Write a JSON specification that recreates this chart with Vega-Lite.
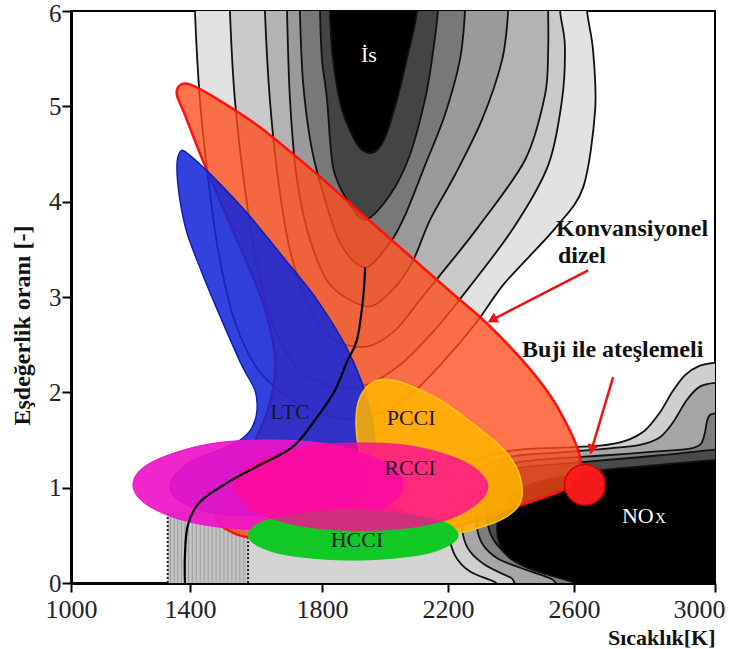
{
"$schema": "https://vega.github.io/schema/vega-lite/v6.json",
"width": 644, "height": 572,
"autosize": {"type": "none"},
"padding": {"left": 71, "top": 11, "right": 15, "bottom": 66},
"background": "white",
"config": {"view": {"stroke": "black", "strokeWidth": 2}, "font": "Liberation Serif"},
"datasets": {
"contours": [
{"lev":"s1","i":0,"t":1415,"p":6.4},{"lev":"s1","i":1,"t":1415,"p":6.0},{"lev":"s1","i":2,"t":1430,"p":5.07},{"lev":"s1","i":3,"t":1452,"p":4.33},{"lev":"s1","i":4,"t":1485,"p":3.49},{"lev":"s1","i":5,"t":1536,"p":2.74},{"lev":"s1","i":6,"t":1612,"p":2.21},{"lev":"s1","i":7,"t":1733,"p":1.87},{"lev":"s1","i":8,"t":1857,"p":1.73},{"lev":"s1","i":9,"t":1968,"p":1.76},{"lev":"s1","i":10,"t":2079,"p":1.97},{"lev":"s1","i":11,"t":2190,"p":2.34},{"lev":"s1","i":12,"t":2292,"p":2.74},{"lev":"s1","i":13,"t":2381,"p":3.15},{"lev":"s1","i":14,"t":2540,"p":3.72},{"lev":"s1","i":15,"t":2626,"p":4.15},{"lev":"s1","i":16,"t":2660,"p":4.96},{"lev":"s1","i":17,"t":2654,"p":5.59},{"lev":"s1","i":18,"t":2637,"p":6.0},{"lev":"s1","i":19,"t":2634,"p":6.4},
{"lev":"s2","i":0,"t":1521,"p":6.4},{"lev":"s2","i":1,"t":1521,"p":6.0},{"lev":"s2","i":2,"t":1536,"p":5.07},{"lev":"s2","i":3,"t":1567,"p":4.12},{"lev":"s2","i":4,"t":1606,"p":3.28},{"lev":"s2","i":5,"t":1658,"p":2.65},{"lev":"s2","i":6,"t":1733,"p":2.23},{"lev":"s2","i":7,"t":1841,"p":2.05},{"lev":"s2","i":8,"t":1943,"p":2.08},{"lev":"s2","i":9,"t":2048,"p":2.29},{"lev":"s2","i":10,"t":2143,"p":2.6},{"lev":"s2","i":11,"t":2229,"p":2.94},{"lev":"s2","i":12,"t":2403,"p":3.7},{"lev":"s2","i":13,"t":2518,"p":4.38},{"lev":"s2","i":14,"t":2562,"p":5.07},{"lev":"s2","i":15,"t":2571,"p":5.64},{"lev":"s2","i":16,"t":2556,"p":6.0},{"lev":"s2","i":17,"t":2556,"p":6.4},
{"lev":"s3","i":0,"t":1627,"p":6.4},{"lev":"s3","i":1,"t":1627,"p":6.0},{"lev":"s3","i":2,"t":1642,"p":5.07},{"lev":"s3","i":3,"t":1667,"p":4.23},{"lev":"s3","i":4,"t":1703,"p":3.49},{"lev":"s3","i":5,"t":1764,"p":2.86},{"lev":"s3","i":6,"t":1841,"p":2.55},{"lev":"s3","i":7,"t":1943,"p":2.48},{"lev":"s3","i":8,"t":2032,"p":2.65},{"lev":"s3","i":9,"t":2111,"p":2.97},{"lev":"s3","i":10,"t":2175,"p":3.23},{"lev":"s3","i":11,"t":2295,"p":3.73},{"lev":"s3","i":12,"t":2445,"p":4.44},{"lev":"s3","i":13,"t":2508,"p":5.12},{"lev":"s3","i":14,"t":2518,"p":5.59},{"lev":"s3","i":15,"t":2518,"p":6.0},{"lev":"s3","i":16,"t":2518,"p":6.4},
{"lev":"s4","i":0,"t":1694,"p":6.4},{"lev":"s4","i":1,"t":1694,"p":6.0},{"lev":"s4","i":2,"t":1703,"p":5.07},{"lev":"s4","i":3,"t":1724,"p":4.23},{"lev":"s4","i":4,"t":1764,"p":3.6},{"lev":"s4","i":5,"t":1825,"p":3.13},{"lev":"s4","i":6,"t":1943,"p":2.9},{"lev":"s4","i":7,"t":2022,"p":3.07},{"lev":"s4","i":8,"t":2086,"p":3.36},{"lev":"s4","i":9,"t":2143,"p":3.81},{"lev":"s4","i":10,"t":2222,"p":4.28},{"lev":"s4","i":11,"t":2308,"p":4.86},{"lev":"s4","i":12,"t":2372,"p":5.49},{"lev":"s4","i":13,"t":2391,"p":6.0},{"lev":"s4","i":14,"t":2391,"p":6.4},
{"lev":"s5","i":0,"t":1733,"p":6.4},{"lev":"s5","i":1,"t":1733,"p":6.0},{"lev":"s5","i":2,"t":1742,"p":5.28},{"lev":"s5","i":3,"t":1764,"p":4.65},{"lev":"s5","i":4,"t":1794,"p":4.2},{"lev":"s5","i":5,"t":1857,"p":3.57},{"lev":"s5","i":6,"t":1937,"p":3.31},{"lev":"s5","i":7,"t":2016,"p":3.57},{"lev":"s5","i":8,"t":2064,"p":3.86},{"lev":"s5","i":9,"t":2127,"p":4.38},{"lev":"s5","i":10,"t":2190,"p":4.91},{"lev":"s5","i":11,"t":2238,"p":5.49},{"lev":"s5","i":12,"t":2254,"p":6.0},{"lev":"s5","i":13,"t":2254,"p":6.4},
{"lev":"s6","i":0,"t":1794,"p":6.4},{"lev":"s6","i":1,"t":1794,"p":6.0},{"lev":"s6","i":2,"t":1800,"p":5.49},{"lev":"s6","i":3,"t":1816,"p":5.07},{"lev":"s6","i":4,"t":1835,"p":4.36},{"lev":"s6","i":5,"t":1879,"p":4.02},{"lev":"s6","i":6,"t":1937,"p":3.81},{"lev":"s6","i":7,"t":2016,"p":4.07},{"lev":"s6","i":8,"t":2079,"p":4.49},{"lev":"s6","i":9,"t":2127,"p":5.07},{"lev":"s6","i":10,"t":2149,"p":5.49},{"lev":"s6","i":11,"t":2168,"p":6.0},{"lev":"s6","i":12,"t":2168,"p":6.4},
{"lev":"s7","i":0,"t":1825,"p":6.4},{"lev":"s7","i":1,"t":1825,"p":6.0},{"lev":"s7","i":2,"t":1835,"p":5.49},{"lev":"s7","i":3,"t":1864,"p":4.96},{"lev":"s7","i":4,"t":1914,"p":4.59},{"lev":"s7","i":5,"t":1959,"p":4.51},{"lev":"s7","i":6,"t":1997,"p":4.65},{"lev":"s7","i":7,"t":2038,"p":5.07},{"lev":"s7","i":8,"t":2076,"p":5.59},{"lev":"s7","i":9,"t":2102,"p":6.0},{"lev":"s7","i":10,"t":2102,"p":6.4},
{"lev":"n1","i":0,"t":3071,"p":2.32},{"lev":"n1","i":1,"t":3000,"p":2.31},{"lev":"n1","i":2,"t":2957,"p":2.28},{"lev":"n1","i":3,"t":2915,"p":2.18},{"lev":"n1","i":4,"t":2878,"p":2.0},{"lev":"n1","i":5,"t":2844,"p":1.79},{"lev":"n1","i":6,"t":2801,"p":1.6},{"lev":"n1","i":7,"t":2745,"p":1.49},{"lev":"n1","i":8,"t":2674,"p":1.44},{"lev":"n1","i":9,"t":2556,"p":1.42},{"lev":"n1","i":10,"t":2429,"p":1.4},{"lev":"n1","i":11,"t":2333,"p":1.34},{"lev":"n1","i":12,"t":2264,"p":1.24},{"lev":"n1","i":13,"t":2222,"p":1.06},{"lev":"n1","i":14,"t":2200,"p":0.82},{"lev":"n1","i":15,"t":2200,"p":0.56},{"lev":"n1","i":16,"t":2222,"p":0.29},{"lev":"n1","i":17,"t":2270,"p":0.12},{"lev":"n1","i":18,"t":2349,"p":0.01},{"lev":"n1","i":19,"t":2429,"p":-0.13},{"lev":"n1","i":20,"t":3071,"p":-0.18},
{"lev":"n2","i":0,"t":3071,"p":2.1},{"lev":"n2","i":1,"t":3000,"p":2.1},{"lev":"n2","i":2,"t":2957,"p":2.06},{"lev":"n2","i":3,"t":2920,"p":1.92},{"lev":"n2","i":4,"t":2880,"p":1.68},{"lev":"n2","i":5,"t":2844,"p":1.53},{"lev":"n2","i":6,"t":2787,"p":1.45},{"lev":"n2","i":7,"t":2693,"p":1.41},{"lev":"n2","i":8,"t":2556,"p":1.37},{"lev":"n2","i":9,"t":2429,"p":1.34},{"lev":"n2","i":10,"t":2349,"p":1.27},{"lev":"n2","i":11,"t":2295,"p":1.16},{"lev":"n2","i":12,"t":2260,"p":0.98},{"lev":"n2","i":13,"t":2244,"p":0.74},{"lev":"n2","i":14,"t":2248,"p":0.5},{"lev":"n2","i":15,"t":2270,"p":0.33},{"lev":"n2","i":16,"t":2318,"p":0.19},{"lev":"n2","i":17,"t":2397,"p":0.06},{"lev":"n2","i":18,"t":2492,"p":-0.07},{"lev":"n2","i":19,"t":3071,"p":-0.18},
{"lev":"n3","i":0,"t":3071,"p":1.78},{"lev":"n3","i":1,"t":3000,"p":1.78},{"lev":"n3","i":2,"t":2980,"p":1.73},{"lev":"n3","i":3,"t":2971,"p":1.57},{"lev":"n3","i":4,"t":2960,"p":1.46},{"lev":"n3","i":5,"t":2929,"p":1.41},{"lev":"n3","i":6,"t":2835,"p":1.38},{"lev":"n3","i":7,"t":2693,"p":1.34},{"lev":"n3","i":8,"t":2556,"p":1.31},{"lev":"n3","i":9,"t":2429,"p":1.27},{"lev":"n3","i":10,"t":2359,"p":1.19},{"lev":"n3","i":11,"t":2318,"p":1.03},{"lev":"n3","i":12,"t":2292,"p":0.82},{"lev":"n3","i":13,"t":2292,"p":0.58},{"lev":"n3","i":14,"t":2311,"p":0.4},{"lev":"n3","i":15,"t":2356,"p":0.26},{"lev":"n3","i":16,"t":2429,"p":0.16},{"lev":"n3","i":17,"t":2524,"p":0.05},{"lev":"n3","i":18,"t":2617,"p":-0.09},{"lev":"n3","i":19,"t":3071,"p":-0.18},
{"lev":"n4","i":0,"t":3071,"p":1.41},{"lev":"n4","i":1,"t":3000,"p":1.4},{"lev":"n4","i":2,"t":2844,"p":1.34},{"lev":"n4","i":3,"t":2693,"p":1.29},{"lev":"n4","i":4,"t":2556,"p":1.25},{"lev":"n4","i":5,"t":2429,"p":1.21},{"lev":"n4","i":6,"t":2381,"p":1.13},{"lev":"n4","i":7,"t":2343,"p":0.98},{"lev":"n4","i":8,"t":2324,"p":0.77},{"lev":"n4","i":9,"t":2330,"p":0.56},{"lev":"n4","i":10,"t":2356,"p":0.4},{"lev":"n4","i":11,"t":2397,"p":0.28},{"lev":"n4","i":12,"t":2460,"p":0.19},{"lev":"n4","i":13,"t":2556,"p":0.08},{"lev":"n4","i":14,"t":2674,"p":-0.07},{"lev":"n4","i":15,"t":3071,"p":-0.18},
{"lev":"n5","i":0,"t":3071,"p":1.3},{"lev":"n5","i":1,"t":3000,"p":1.29},{"lev":"n5","i":2,"t":2816,"p":1.23},{"lev":"n5","i":3,"t":2693,"p":1.19},{"lev":"n5","i":4,"t":2587,"p":1.13},{"lev":"n5","i":5,"t":2492,"p":1.07},{"lev":"n5","i":6,"t":2422,"p":0.97},{"lev":"n5","i":7,"t":2381,"p":0.82},{"lev":"n5","i":8,"t":2356,"p":0.61},{"lev":"n5","i":9,"t":2365,"p":0.4},{"lev":"n5","i":10,"t":2397,"p":0.26},{"lev":"n5","i":11,"t":2467,"p":0.14},{"lev":"n5","i":12,"t":2597,"p":0.01},{"lev":"n5","i":13,"t":2674,"p":-0.09},{"lev":"n5","i":14,"t":3071,"p":-0.18}
],
"lowt": [
{"i":0,"t":1325,"p":-0.1},{"i":1,"t":1325,"p":0.75},{"i":2,"t":1575,"p":0.82},{"i":3,"t":1850,"p":0.82},{"i":4,"t":2200,"p":0.75},{"i":5,"t":2330,"p":0.4},{"i":6,"t":2450,"p":-0.1}
],
"hatchbox": [{"t":1325,"t2":1576,"p":0,"p2":0.75}],
"hatch": [
{"t":1335,"p":0,"p2":0.75},{"t":1347,"p":0,"p2":0.75},{"t":1359,"p":0,"p2":0.75},{"t":1371,"p":0,"p2":0.75},{"t":1383,"p":0,"p2":0.75},{"t":1395,"p":0,"p2":0.75},{"t":1407,"p":0,"p2":0.75},{"t":1419,"p":0,"p2":0.75},{"t":1431,"p":0,"p2":0.75},{"t":1443,"p":0,"p2":0.75},{"t":1455,"p":0,"p2":0.75},{"t":1467,"p":0,"p2":0.75},{"t":1479,"p":0,"p2":0.75},{"t":1491,"p":0,"p2":0.75},{"t":1503,"p":0,"p2":0.75},{"t":1515,"p":0,"p2":0.75},{"t":1527,"p":0,"p2":0.75},{"t":1539,"p":0,"p2":0.75},{"t":1551,"p":0,"p2":0.75},{"t":1563,"p":0,"p2":0.75}
],
"dots": [{"t":1325,"p":0,"p2":0.74},{"t":1576,"p":0,"p2":0.48}],
"regions": [
{"r":"orange","i":0,"t":1366,"p":5.22},{"r":"orange","i":1,"t":1400,"p":5.23},{"r":"orange","i":2,"t":1476,"p":5.09},{"r":"orange","i":3,"t":1612,"p":4.78},{"r":"orange","i":4,"t":1794,"p":4.26},{"r":"orange","i":5,"t":1937,"p":3.84},{"r":"orange","i":6,"t":2079,"p":3.43},{"r":"orange","i":7,"t":2206,"p":3.06},{"r":"orange","i":8,"t":2321,"p":2.73},{"r":"orange","i":9,"t":2435,"p":2.34},{"r":"orange","i":10,"t":2524,"p":1.97},{"r":"orange","i":11,"t":2578,"p":1.66},{"r":"orange","i":12,"t":2611,"p":1.4},{"r":"orange","i":13,"t":2620,"p":1.21},{"r":"orange","i":14,"t":2603,"p":1.06},{"r":"orange","i":15,"t":2549,"p":0.95},{"r":"orange","i":16,"t":2460,"p":0.85},{"r":"orange","i":17,"t":2333,"p":0.71},{"r":"orange","i":18,"t":2216,"p":0.58},{"r":"orange","i":19,"t":2048,"p":0.5},{"r":"orange","i":20,"t":1733,"p":0.47},{"r":"orange","i":21,"t":1576,"p":0.48},{"r":"orange","i":22,"t":1512,"p":0.56},{"r":"orange","i":23,"t":1482,"p":0.66},{"r":"orange","i":24,"t":1491,"p":0.82},{"r":"orange","i":25,"t":1567,"p":1.29},{"r":"orange","i":26,"t":1636,"p":1.81},{"r":"orange","i":27,"t":1658,"p":2.34},{"r":"orange","i":28,"t":1618,"p":2.97},{"r":"orange","i":29,"t":1536,"p":3.65},{"r":"orange","i":30,"t":1445,"p":4.38},{"r":"orange","i":31,"t":1383,"p":4.91},{"r":"orange","i":32,"t":1356,"p":5.12},
{"r":"blue","i":0,"t":1366,"p":4.52},{"r":"blue","i":1,"t":1390,"p":4.51},{"r":"blue","i":2,"t":1470,"p":4.26},{"r":"blue","i":3,"t":1573,"p":3.88},{"r":"blue","i":4,"t":1682,"p":3.42},{"r":"blue","i":5,"t":1785,"p":2.97},{"r":"blue","i":6,"t":1873,"p":2.5},{"r":"blue","i":7,"t":1927,"p":2.1},{"r":"blue","i":8,"t":1959,"p":1.71},{"r":"blue","i":9,"t":1968,"p":1.45},{"r":"blue","i":10,"t":1952,"p":1.08},{"r":"blue","i":11,"t":1857,"p":0.82},{"r":"blue","i":12,"t":1673,"p":0.71},{"r":"blue","i":13,"t":1461,"p":0.74},{"r":"blue","i":14,"t":1350,"p":0.9},{"r":"blue","i":15,"t":1339,"p":1.08},{"r":"blue","i":16,"t":1400,"p":1.27},{"r":"blue","i":17,"t":1491,"p":1.4},{"r":"blue","i":18,"t":1552,"p":1.5},{"r":"blue","i":19,"t":1588,"p":1.63},{"r":"blue","i":20,"t":1603,"p":1.81},{"r":"blue","i":21,"t":1597,"p":2.02},{"r":"blue","i":22,"t":1552,"p":2.32},{"r":"blue","i":23,"t":1470,"p":2.97},{"r":"blue","i":24,"t":1430,"p":3.31},{"r":"blue","i":25,"t":1390,"p":3.67},{"r":"blue","i":26,"t":1366,"p":4.02},{"r":"blue","i":27,"t":1356,"p":4.36},
{"r":"yellow","i":0,"t":1968,"p":2.12},{"r":"yellow","i":1,"t":2048,"p":2.11},{"r":"yellow","i":2,"t":2175,"p":1.92},{"r":"yellow","i":3,"t":2283,"p":1.66},{"r":"yellow","i":4,"t":2368,"p":1.43},{"r":"yellow","i":5,"t":2416,"p":1.22},{"r":"yellow","i":6,"t":2435,"p":1.0},{"r":"yellow","i":7,"t":2426,"p":0.82},{"r":"yellow","i":8,"t":2378,"p":0.68},{"r":"yellow","i":9,"t":2299,"p":0.58},{"r":"yellow","i":10,"t":2222,"p":0.53},{"r":"yellow","i":11,"t":2111,"p":0.66},{"r":"yellow","i":12,"t":1984,"p":0.98},{"r":"yellow","i":13,"t":1927,"p":1.29},{"r":"yellow","i":14,"t":1908,"p":1.66},{"r":"yellow","i":15,"t":1921,"p":1.95},
{"r":"magenta","i":0,"t":2057,"p":1.03},{"r":"magenta","i":1,"t":2025,"p":0.85},{"r":"magenta","i":2,"t":1930,"p":0.69},{"r":"magenta","i":3,"t":1794,"p":0.59},{"r":"magenta","i":4,"t":1636,"p":0.56},{"r":"magenta","i":5,"t":1479,"p":0.59},{"r":"magenta","i":6,"t":1343,"p":0.69},{"r":"magenta","i":7,"t":1242,"p":0.85},{"r":"magenta","i":8,"t":1208,"p":1.03},{"r":"magenta","i":9,"t":1242,"p":1.21},{"r":"magenta","i":10,"t":1343,"p":1.36},{"r":"magenta","i":11,"t":1479,"p":1.47},{"r":"magenta","i":12,"t":1636,"p":1.5},{"r":"magenta","i":13,"t":1794,"p":1.47},{"r":"magenta","i":14,"t":1930,"p":1.36},{"r":"magenta","i":15,"t":2025,"p":1.21},
{"r":"hcci","i":0,"t":2232,"p":0.5},{"r":"hcci","i":1,"t":2206,"p":0.4},{"r":"hcci","i":2,"t":2133,"p":0.31},{"r":"hcci","i":3,"t":2025,"p":0.26},{"r":"hcci","i":4,"t":1898,"p":0.24},{"r":"hcci","i":5,"t":1773,"p":0.26},{"r":"hcci","i":6,"t":1670,"p":0.31},{"r":"hcci","i":7,"t":1600,"p":0.4},{"r":"hcci","i":8,"t":1576,"p":0.5},{"r":"hcci","i":9,"t":1600,"p":0.61},{"r":"hcci","i":10,"t":1670,"p":0.69},{"r":"hcci","i":11,"t":1773,"p":0.74},{"r":"hcci","i":12,"t":1898,"p":0.77},{"r":"hcci","i":13,"t":2025,"p":0.74},{"r":"hcci","i":14,"t":2133,"p":0.69},{"r":"hcci","i":15,"t":2206,"p":0.61},
{"r":"rcci","i":0,"t":2327,"p":1.01},{"r":"rcci","i":1,"t":2292,"p":0.83},{"r":"rcci","i":2,"t":2210,"p":0.68},{"r":"rcci","i":3,"t":2079,"p":0.58},{"r":"rcci","i":4,"t":1924,"p":0.55},{"r":"rcci","i":5,"t":1770,"p":0.58},{"r":"rcci","i":6,"t":1645,"p":0.68},{"r":"rcci","i":7,"t":1564,"p":0.83},{"r":"rcci","i":8,"t":1533,"p":1.01},{"r":"rcci","i":9,"t":1564,"p":1.19},{"r":"rcci","i":10,"t":1645,"p":1.33},{"r":"rcci","i":11,"t":1770,"p":1.44},{"r":"rcci","i":12,"t":1924,"p":1.47},{"r":"rcci","i":13,"t":2079,"p":1.44},{"r":"rcci","i":14,"t":2210,"p":1.33},{"r":"rcci","i":15,"t":2292,"p":1.19}
],
"curve": [
{"i":0,"t":1937,"p":3.31},{"i":1,"t":1930,"p":2.97},{"i":2,"t":1911,"p":2.55},{"i":3,"t":1879,"p":2.32},{"i":4,"t":1841,"p":2.02},{"i":5,"t":1785,"p":1.74},{"i":6,"t":1712,"p":1.43},{"i":7,"t":1612,"p":1.24},{"i":8,"t":1512,"p":1.05},{"i":9,"t":1430,"p":0.85},{"i":10,"t":1393,"p":0.61},{"i":11,"t":1383,"p":0.29},{"i":12,"t":1383,"p":0.0}
],
"spark": [{"t":2631,"p":1.03}],
"arrows": [
{"a":"a1","i":0,"t":2640,"p":3.28},{"a":"a1","i":1,"t":2340,"p":2.76},
{"a":"a2","i":0,"t":2711,"p":2.16},{"a":"a2","i":1,"t":2650,"p":1.4}
],
"head1": [{"t":2340,"p":2.76}],
"head2": [{"t":2650,"p":1.4}],
"soot": [{"t":1949,"p":5.54,"label":"İs"}],
"regimes": [
{"t":1703,"p":1.79,"label":"LTC"},{"t":2083,"p":1.73,"label":"PCCI"},{"t":2079,"p":1.21,"label":"RCCI"},{"t":1911,"p":0.45,"label":"HCCI"}
],
"nox": [{"t":2736,"p":0.63,"label":"NO"}],
"noxsub": [{"t":2830,"p":0.63,"label":"X"}],
"notes": [
{"t":2543,"p":3.71,"label":"Konvansiyonel"},{"t":2549,"p":3.43,"label":"dizel"},{"t":2435,"p":2.44,"label":"Buji ile ateşlemeli"}
]
},
"encoding": {
"x": {"field": "t", "type": "quantitative",
 "scale": {"domain": [1000, 1400, 1800, 2200, 2600, 3000], "range": [0, 119, 251, 377, 503, 644], "nice": false, "zero": false},
 "axis": {"values": [1000, 1400, 1800, 2200, 2600, 3000], "format": "d", "grid": false,
  "title": "Sıcaklık[K]", "titleFont": "Liberation Serif", "titleFontWeight": "bold", "titleFontSize": 22, "titleColor": "#111",
  "titleX": 644, "titleY": 61, "titleAlign": "right", "titleAnchor": "end", "titleBaseline": "alphabetic",
  "labelFont": "Liberation Serif", "labelFontSize": 26, "labelColor": "#222", "labelPadding": 4,
  "labelAlign": {"condition": {"test": "datum.value == 3000", "value": "right"}, "value": "center"},
  "labelOffset": {"condition": {"test": "datum.value == 3000", "value": 10}, "value": 0},
  "tickSize": 9, "tickWidth": 2, "tickColor": "black", "domainColor": "black", "domainWidth": 3}},
"y": {"field": "p", "type": "quantitative",
 "scale": {"domain": [0, 6], "nice": false, "zero": false},
 "axis": {"values": [0, 1, 2, 3, 4, 5, 6], "grid": false,
  "title": "Eşdeğerlik oranı [-]", "titleFont": "Liberation Serif", "titleFontWeight": "bold", "titleFontSize": 24, "titleColor": "#111",
  "titleX": -49, "titleY": 314, "titleBaseline": "middle",
  "labelFont": "Liberation Serif", "labelFontSize": 25, "labelColor": "#222", "labelPadding": 1,
  "labelBaseline": {"condition": {"test": "datum.value == 6", "value": "top"}, "value": "middle"},
  "labelOffset": {"condition": {"test": "datum.value == 6", "value": -10}, "value": 0},
  "tickSize": 9, "tickWidth": 2, "tickColor": "black", "domainColor": "black", "domainWidth": 3}}
},
"layer": [
{"data": {"name": "lowt"}, "mark": {"type": "line", "interpolate": "linear-closed", "fill": "#d4d4d4", "stroke": "#d4d4d4", "strokeWidth": 0, "clip": true},
 "encoding": {"order": {"field": "i", "type": "quantitative"}}},
{"data": {"name": "hatchbox"}, "mark": {"type": "rect", "fill": "#c4c4c4", "clip": true},
 "encoding": {"x2": {"field": "t2"}, "y2": {"field": "p2"}}},
{"data": {"name": "hatch"}, "mark": {"type": "rule", "color": "#9c9c9c", "strokeWidth": 1, "clip": true},
 "encoding": {"y2": {"field": "p2"}}},
{"data": {"name": "dots"}, "mark": {"type": "rule", "color": "#222", "strokeWidth": 2, "strokeDash": [2, 2], "clip": true},
 "encoding": {"y2": {"field": "p2"}}},
{"data": {"name": "contours"}, "mark": {"type": "line", "interpolate": "cardinal-closed", "tension": 0.1, "stroke": "#111", "strokeWidth": 1.8, "strokeJoin": "round", "clip": true},
 "encoding": {"fill": {"field": "lev", "type": "nominal", "legend": null,
   "scale": {"domain": ["s1","s2","s3","s4","s5","s6","s7","n1","n2","n3","n4","n5"],
             "range": ["#e2e2e2","#cacaca","#b3b3b3","#9a9a9a","#787878","#444444","#000000","#cfcfcf","#a6a6a6","#7e7e7e","#4a4a4a","#000000"]}},
   "detail": {"field": "lev"}, "order": {"field": "i", "type": "quantitative"}}},
{"data": {"name": "regions"}, "transform": [{"filter": "datum.r == 'orange'"}],
 "mark": {"type": "line", "interpolate": "cardinal-closed", "tension": 0.1, "fill": "#ff4d1a", "fillOpacity": 0.78, "stroke": "#ff1010", "strokeWidth": 2.5, "clip": true},
 "encoding": {"order": {"field": "i", "type": "quantitative"}}},
{"data": {"name": "regions"}, "transform": [{"filter": "datum.r == 'blue'"}],
 "mark": {"type": "line", "interpolate": "cardinal-closed", "tension": 0.1, "fill": "#1428d8", "fillOpacity": 0.88, "stroke": "#1020b0", "strokeWidth": 1.5, "clip": true},
 "encoding": {"order": {"field": "i", "type": "quantitative"}}},
{"data": {"name": "regions"}, "transform": [{"filter": "datum.r == 'yellow'"}],
 "mark": {"type": "line", "interpolate": "cardinal-closed", "tension": 0.1, "fill": "#ffb300", "fillOpacity": 0.87, "stroke": "#ffc21a", "strokeWidth": 1.5, "clip": true},
 "encoding": {"order": {"field": "i", "type": "quantitative"}}},
{"data": {"name": "regions"}, "transform": [{"filter": "datum.r == 'magenta'"}],
 "mark": {"type": "line", "interpolate": "cardinal-closed", "fill": "#ee14c8", "fillOpacity": 0.92, "stroke": "#ee14c8", "strokeWidth": 1, "clip": true},
 "encoding": {"order": {"field": "i", "type": "quantitative"}}},
{"data": {"name": "regions"}, "transform": [{"filter": "datum.r == 'hcci'"}],
 "mark": {"type": "line", "interpolate": "cardinal-closed", "fill": "#12c825", "fillOpacity": 1, "stroke": "#12c825", "strokeWidth": 1, "clip": true},
 "encoding": {"order": {"field": "i", "type": "quantitative"}}},
{"data": {"name": "regions"}, "transform": [{"filter": "datum.r == 'rcci'"}],
 "mark": {"type": "line", "interpolate": "cardinal-closed", "fill": "#ff0a95", "fillOpacity": 0.8, "stroke": "#ff0a95", "strokeWidth": 1, "strokeOpacity": 0.6, "clip": true},
 "encoding": {"order": {"field": "i", "type": "quantitative"}}},
{"data": {"name": "curve"}, "mark": {"type": "line", "interpolate": "cardinal", "color": "#000", "strokeWidth": 2.2, "clip": true},
 "encoding": {"order": {"field": "i", "type": "quantitative"}}},
{"data": {"name": "spark"}, "mark": {"type": "point", "shape": "circle", "filled": true, "size": 1660, "fill": "#ff1c1c", "stroke": "#d00000", "strokeWidth": 1.5, "opacity": 0.95}},
{"data": {"name": "arrows"}, "mark": {"type": "line", "color": "#ee1111", "strokeWidth": 2.5},
 "encoding": {"detail": {"field": "a"}, "order": {"field": "i", "type": "quantitative"}}},
{"data": {"name": "head1"}, "mark": {"type": "point", "shape": "triangle-up", "filled": true, "size": 130, "color": "#ee1111", "angle": 242, "opacity": 1}},
{"data": {"name": "head2"}, "mark": {"type": "point", "shape": "triangle-up", "filled": true, "size": 130, "color": "#ee1111", "angle": 196, "opacity": 1}},
{"data": {"name": "soot"}, "mark": {"type": "text", "font": "Liberation Serif", "fontSize": 22, "color": "white", "baseline": "middle"},
 "encoding": {"text": {"field": "label"}}},
{"data": {"name": "regimes"}, "mark": {"type": "text", "font": "Liberation Serif", "fontSize": 22, "color": "#1c1530", "baseline": "middle"},
 "encoding": {"text": {"field": "label"}}},
{"data": {"name": "nox"}, "mark": {"type": "text", "font": "Liberation Serif", "fontSize": 22, "color": "white", "align": "left", "baseline": "alphabetic"},
 "encoding": {"text": {"field": "label"}}},
{"data": {"name": "noxsub"}, "mark": {"type": "text", "font": "Liberation Serif", "fontSize": 15, "color": "white", "align": "left", "baseline": "alphabetic"},
 "encoding": {"text": {"field": "label"}}},
{"data": {"name": "notes"}, "mark": {"type": "text", "font": "Liberation Serif", "fontSize": 24, "fontWeight": "bold", "color": "#111", "align": "left", "baseline": "middle"},
 "encoding": {"text": {"field": "label"}}}
]
}
